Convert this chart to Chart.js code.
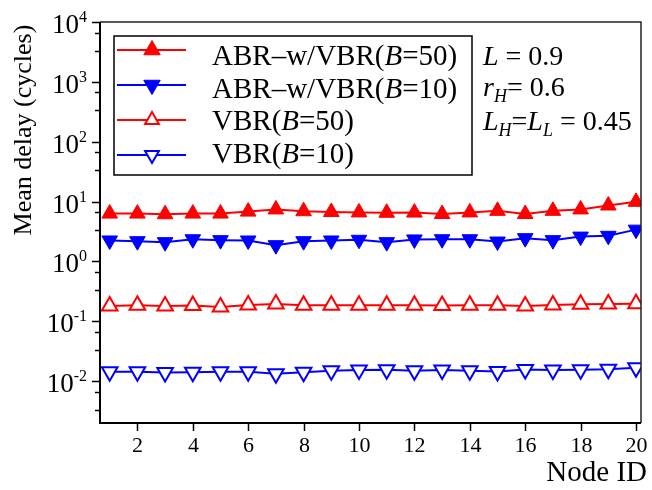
<!DOCTYPE html>
<html lang="en">
<head>
<meta charset="UTF-8">
<title>Mean delay per node</title>
<script src="https://cdn.jsdelivr.net/npm/chart.js"></script>
<style>
  html, body { margin: 0; padding: 0; background: #fff; }
  #wrap { width: 652px; height: 490px; }
</style>
</head>
<body>
<div id="wrap"><canvas id="delayChart" width="652" height="490"></canvas></div>
<script>
// node ids on the x axis
const nodeIds = [1, 2, 3, 4, 5, 6, 7, 8, 9, 10, 11, 12, 13, 14, 15, 16, 17, 18, 19, 20];

// mean delay in cycles
const abrB50 = [6.3, 6.3, 6.15, 6.3, 6.3, 6.8, 7.4, 6.9, 6.7, 6.6, 6.5, 6.55, 6.2, 6.6, 7.0, 6.2, 7.0, 7.4, 8.6, 9.9];
const abrB10 = [2.24, 2.18, 2.1, 2.35, 2.27, 2.24, 1.87, 2.18, 2.24, 2.3, 2.1, 2.33, 2.35, 2.35, 2.15, 2.45, 2.27, 2.6, 2.68, 3.4];
const vbrB50 = [0.18, 0.185, 0.18, 0.183, 0.173, 0.187, 0.195, 0.185, 0.185, 0.185, 0.185, 0.185, 0.183, 0.185, 0.185, 0.18, 0.187, 0.192, 0.195, 0.197];
const vbrB10 = [0.0143, 0.0143, 0.0139, 0.0141, 0.0143, 0.0143, 0.0133, 0.0141, 0.0149, 0.0153, 0.0155, 0.0149, 0.0153, 0.0149, 0.0145, 0.0156, 0.0153, 0.0155, 0.0158, 0.0167];

// _x_ = italic, ~x~ = italic subscript
const seriesNames = ['ABR–w/VBR(_B_=50)', 'ABR–w/VBR(_B_=10)', 'VBR(_B_=50)', 'VBR(_B_=10)'];
const paramLines = ['_L_ = 0.9', '_r_~H~= 0.6', '_L_~H~=_L_~L~ = 0.45'];

const xTicks = [2, 4, 6, 8, 10, 12, 14, 16, 18, 20];
const yExponents = [-2, -1, 0, 1, 2, 3, 4];

const SERIF = "'Liberation Serif', 'Times New Roman', serif";
const RED = '#ff0000';
const BLUE = '#0000ff';

function pts(values) {
  return values.map((v, i) => ({ x: nodeIds[i], y: v }));
}

function parseRich(text) {
  const parts = [];
  let mode = 'n', buf = '';
  for (const ch of text) {
    if (ch === '_' || ch === '~') {
      if (buf) parts.push({ t: buf, m: mode });
      buf = '';
      const m = ch === '_' ? 'i' : 's';
      mode = mode === m ? 'n' : m;
    } else {
      buf += ch;
    }
  }
  if (buf) parts.push({ t: buf, m: mode });
  return parts;
}

function drawRich(ctx, text, x, y, size) {
  let cx = x;
  ctx.textAlign = 'left';
  ctx.textBaseline = 'alphabetic';
  for (const p of parseRich(text)) {
    let dy = 0;
    if (p.m === 'n') ctx.font = `${size}px ${SERIF}`;
    else if (p.m === 'i') ctx.font = `italic ${size}px ${SERIF}`;
    else { ctx.font = `italic ${Math.round(size * 0.64)}px ${SERIF}`; dy = size * 0.22; }
    ctx.fillText(p.t, cx, y + dy);
    cx += ctx.measureText(p.t).width;
  }
}

function marker(ctx, ds, x, y, radius) {
  ctx.save();
  ctx.fillStyle = ds.pointBackgroundColor;
  ctx.strokeStyle = ds.pointBorderColor;
  ctx.lineWidth = ds.pointBorderWidth;
  Chart.helpers.drawPoint(ctx, {
    pointStyle: 'triangle', radius: radius, rotation: ds.pointRotation, borderWidth: ds.pointBorderWidth
  }, x, y);
  ctx.restore();
}

const framePlugin = {
  id: 'framePlugin',
  afterDraw(chart) {
    const ctx = chart.ctx;
    const { left, right, top, bottom } = chart.chartArea;
    const xs = chart.scales.x, ys = chart.scales.y;
    ctx.save();

    // top / right border
    ctx.strokeStyle = '#222';
    ctx.lineWidth = 1.5;
    ctx.beginPath();
    ctx.moveTo(left, top); ctx.lineTo(right, top); ctx.lineTo(right, bottom);
    ctx.stroke();

    // left / bottom axis
    ctx.strokeStyle = '#000';
    ctx.lineWidth = 2;
    ctx.beginPath();
    ctx.moveTo(left, top); ctx.lineTo(left, bottom); ctx.lineTo(right, bottom);
    ctx.stroke();

    // x ticks and labels
    ctx.lineWidth = 1.5;
    ctx.fillStyle = '#000';
    ctx.font = `22px ${SERIF}`;
    ctx.textAlign = 'center';
    ctx.textBaseline = 'alphabetic';
    xTicks.forEach(v => {
      const px = Math.round(xs.getPixelForValue(v)) + 0.5;
      ctx.beginPath(); ctx.moveTo(px, bottom); ctx.lineTo(px, bottom + 8); ctx.stroke();
      ctx.fillText(String(v), px, 452);
    });

    // y minor ticks at 1/3 and 2/3 of each decade
    for (let e = -3; e <= 4; e++) {
      [1 / 3, 2 / 3].forEach(f => {
        const v = f * Math.pow(10, e);
        if (v < ys.min || v > ys.max) return;
        const py = Math.round(ys.getPixelForValue(v)) + 0.5;
        ctx.beginPath(); ctx.moveTo(left - 5, py); ctx.lineTo(left, py); ctx.stroke();
      });
    }

    // y major ticks and 10^n labels
    yExponents.forEach(e => {
      const py = Math.round(ys.getPixelForValue(Math.pow(10, e))) + 0.5;
      ctx.beginPath(); ctx.moveTo(left - 8, py); ctx.lineTo(left, py); ctx.stroke();
      const sup = String(e);
      ctx.font = `16px ${SERIF}`;
      const sw = ctx.measureText(sup).width;
      ctx.font = `27px ${SERIF}`;
      const bw = ctx.measureText('10').width;
      const xEnd = 87;
      ctx.textAlign = 'left';
      ctx.fillText('10', xEnd - sw - bw, py + 10);
      ctx.font = `16px ${SERIF}`;
      ctx.fillText(sup, xEnd - sw, py - 0.5);
    });

    // axis titles
    ctx.font = `29px ${SERIF}`;
    ctx.textAlign = 'right';
    ctx.fillText('Node ID', 647, 481);

    ctx.save();
    ctx.translate(31, 130);
    ctx.rotate(-Math.PI / 2);
    ctx.font = `26px ${SERIF}`;
    ctx.textAlign = 'center';
    ctx.fillText('Mean delay (cycles)', 0, 0);
    ctx.restore();

    // legend
    ctx.fillStyle = '#fff';
    ctx.fillRect(114, 36, 358, 139);
    ctx.strokeStyle = '#000';
    ctx.lineWidth = 1.5;
    ctx.strokeRect(114, 36, 358, 139);
    chart.data.datasets.forEach((ds, i) => {
      const ly = 50 + i * 35;
      ctx.strokeStyle = ds.borderColor;
      ctx.lineWidth = 2;
      ctx.beginPath(); ctx.moveTo(117, ly); ctx.lineTo(186, ly); ctx.stroke();
      marker(ctx, ds, 152, ly, ds.pointBackgroundColor === '#ffffff' ? 8 : 9.5);
      ctx.fillStyle = '#000';
      drawRich(ctx, seriesNames[i], 212, 65 + i * 32.5, 29);
    });

    // parameters
    ctx.fillStyle = '#000';
    [65, 96, 130].forEach((by, i) => drawRich(ctx, paramLines[i], 483, by, 28));

    ctx.restore();
  }
};

function series(values, color, filled, down) {
  return {
    data: pts(values),
    borderColor: color,
    borderWidth: 2,
    pointStyle: 'triangle',
    pointRotation: down ? 180 : 0,
    pointRadius: 9,
    pointBorderColor: color,
    pointBackgroundColor: filled ? color : '#ffffff',
    pointBorderWidth: filled ? 1 : 2,
    tension: 0,
    fill: false
  };
}

new Chart(document.getElementById('delayChart'), {
  type: 'line',
  data: {
    datasets: [
      series(abrB50, RED, true, false),
      series(abrB10, BLUE, true, true),
      series(vbrB50, RED, false, false),
      series(vbrB10, BLUE, false, true)
    ]
  },
  options: {
    responsive: false,
    animation: false,
    layout: { padding: { left: 100, right: 6, top: 22, bottom: 67 } },
    plugins: { legend: { display: false }, tooltip: { enabled: false } },
    scales: {
      x: { type: 'linear', min: 0.65, max: 20.18, display: false },
      y: { type: 'logarithmic', min: 0.002, max: 10000, display: false }
    }
  },
  plugins: [framePlugin]
});
</script>
</body>
</html>
